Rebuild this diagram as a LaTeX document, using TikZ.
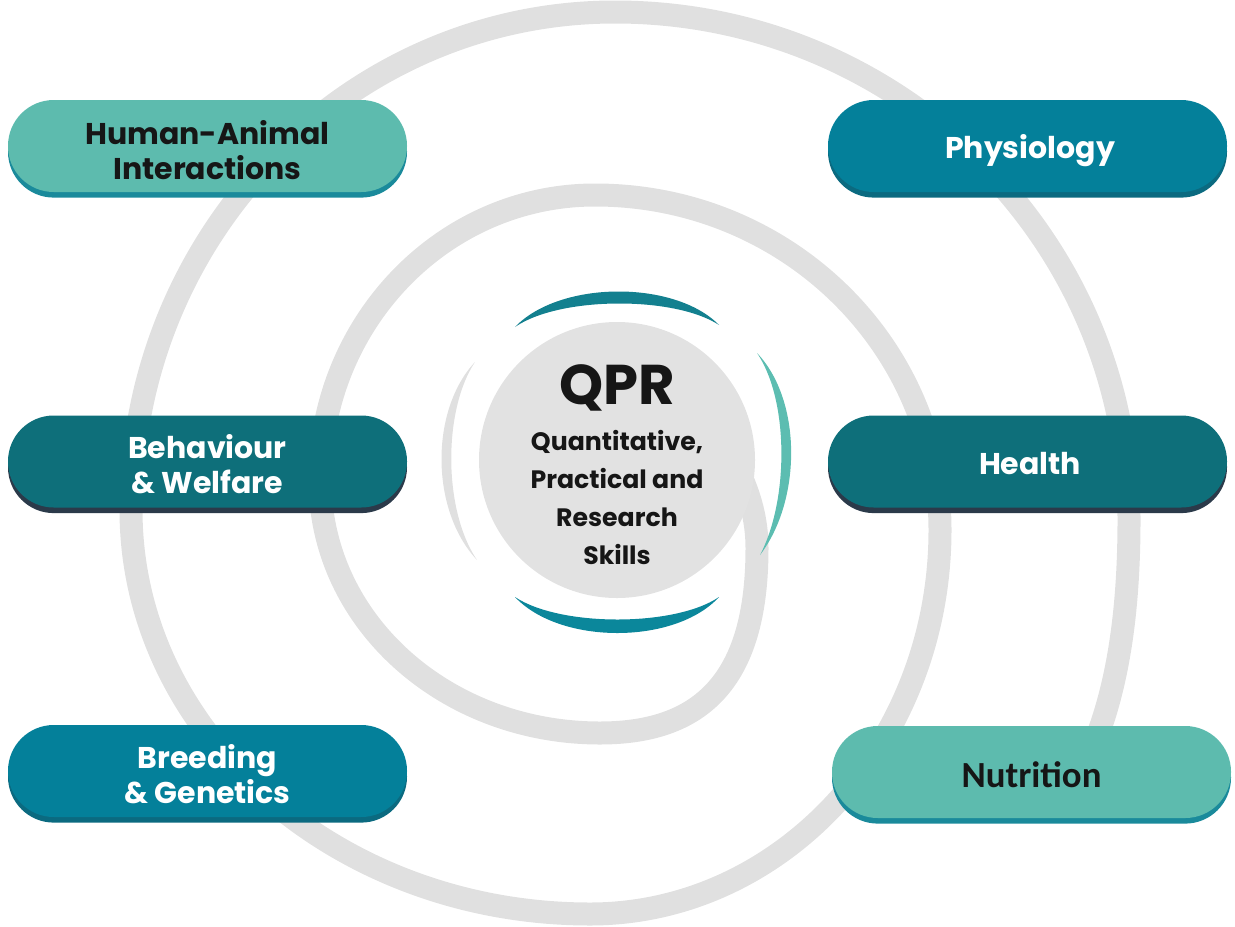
\documentclass[tikz,border=0pt]{standalone}
\usepackage{fontspec}
\setmainfont{Poppins}
\newfontfamily\carl{Carlito}
\definecolor{gr}{HTML}{E0E0E0}
\definecolor{grc}{HTML}{E2E2E2}
\definecolor{lteal}{HTML}{5DBBAE}
\definecolor{ltealsh}{HTML}{1A8A9B}
\definecolor{mteal}{HTML}{04809A}
\definecolor{mtealsh}{HTML}{0B6A80}
\definecolor{dteal}{HTML}{0E6F7A}
\definecolor{dtealsh}{HTML}{2B3A4A}
\definecolor{arctop}{HTML}{13808F}
\definecolor{arcbot}{HTML}{0B879B}
\definecolor{arcright}{HTML}{5CBDB1}
\definecolor{ink}{HTML}{161616}
\tikzset{
  pill/.style 2 args={rectangle, rounded corners=22.9pt, minimum width=199.5pt,
    minimum height=46pt, inner sep=0pt, fill=#1,
    preaction={fill=#2, transform canvas={yshift=-2.8pt}}},
  btext/.style={align=center, inner sep=0pt, font=\bfseries\fontsize{15}{17.5}\selectfont},
  spiral/.style={draw=gr, line width=11.5pt, line cap=butt, line join=round},
}
\begin{document}
\begin{tikzpicture}[x=0.5pt,y=-0.5pt]
\useasboundingbox (0,0) rectangle (1235,926);
% spiral
\draw[spiral] (738,470) .. controls (750,495) and (757,520) .. (757,548)
  .. controls (757,674) and (707,733) .. (600,733)
  .. controls (445,733) and (320,621) .. (320,480)
  .. controls (320,323) and (443,195) .. (595,195)
  .. controls (786,195) and (940,345) .. (940,530)
  .. controls (940,742) and (783,914) .. (590,914)
  .. controls (336.5,914) and (131,733) .. (131,510)
  .. controls (131,235) and (348,12) .. (615,12)
  .. controls (899,12) and (1129,239.4) .. (1129,520)
  .. controls (1129,640) and (1110,735) .. (1062,805);
% core
\node (core) [circle, fill=grc, minimum size=138pt, inner sep=0pt] at (617,460) {};
% crescents
\fill[arctop] (515,327) .. controls (560,280) and (675,280) .. (719,325)
  .. controls (675,296) and (560,296) .. (515,327) -- cycle;
\fill[arcbot] (515,597) .. controls (560,645) and (675,645) .. (719,597)
  .. controls (675,627) and (560,627) .. (515,597) -- cycle;
\fill[arcright] (757,353) .. controls (802,400) and (802,500) .. (760,555)
  .. controls (789,500) and (789,400) .. (757,353) -- cycle;
\fill[gr] (475,362) .. controls (430,410) and (430,510) .. (477,560)
  .. controls (443,510) and (443,410) .. (475,362) -- cycle;
% centre texts
\node (qpr) [text=ink, font=\bfseries\fontsize{28}{28}\selectfont] at (617,388) {QPR};
\node (qprsub) [text=ink, align=center, font=\bfseries\fontsize{12.6}{19}\selectfont] at (617,497)
  {Quantitative,\\Practical and\\Research\\Skills};
% boxes
\node (hai) [pill={lteal}{ltealsh}] at (207.5,146) {};
\node (phys) [pill={mteal}{mtealsh}] at (1027.5,146) {};
\node (bw) [pill={dteal}{dtealsh}] at (207.5,461.5) {};
\node (health) [pill={dteal}{dtealsh}] at (1027.5,461.5) {};
\node (bg) [pill={mteal}{mtealsh}] at (207.5,771) {};
\node (nutr) [pill={lteal}{ltealsh}] at (1031.5,772) {};
% box texts
\node (haiT) [btext, text=ink] at (207.5,150) {Human-Animal\\Interactions};
\node (physT) [btext, text=white] at (1030,151) {Physiology};
\node (bwT) [btext, text=white] at (207.5,464.5) {Behaviour\\\& Welfare};
\node (healthT) [btext, text=white] at (1030,463.5) {Health};
\node (bgT) [btext, text=white] at (207.5,774.5) {Breeding\\\& Genetics};
\node (nutrT) [text=ink, inner sep=0pt, font=\carl\bfseries\fontsize{18.4}{19}\selectfont] at (1031.5,775) {Nutrition};
\end{tikzpicture}
\end{document}
